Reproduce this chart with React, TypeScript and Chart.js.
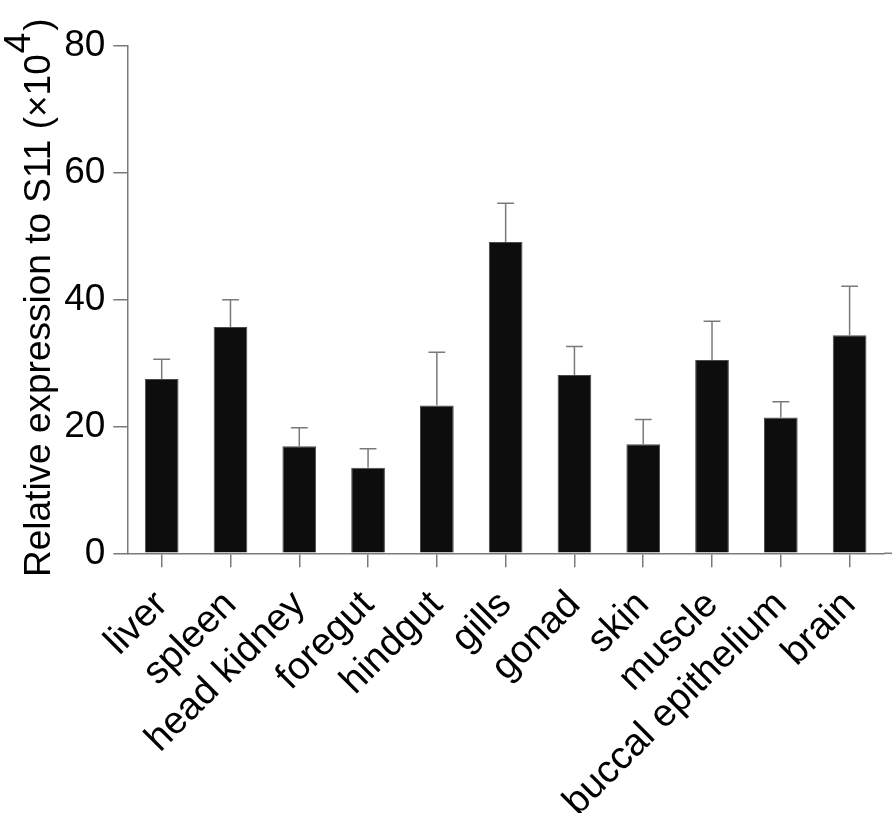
import React, { useEffect, useRef } from "react";
import { Chart, registerables } from "chart.js";

Chart.register(...registerables);

const categories = [
  "liver",
  "spleen",
  "head kidney",
  "foregut",
  "hindgut",
  "gills",
  "gonad",
  "skin",
  "muscle",
  "buccal epithelium",
  "brain",
];
const means = [27.5, 35.7, 16.9, 13.5, 23.3, 49.1, 28.1, 17.2, 30.5, 21.4, 34.4];
const errors = [3.1, 4.3, 2.9, 3.0, 8.4, 6.1, 4.5, 3.9, 6.1, 2.5, 7.7];
const yMin = 0;
const yMax = 80;
const yStep = 20;
const yTitleMain = "Relative expression to S11 (×10";
const yTitleSup = "4";
const yTitleEnd = ")";

const FONT = "'Liberation Sans', Arial, Helvetica, sans-serif";
const GREY = "#7a7a7a";

const errorBarPlugin = {
  id: "errorBars",
  afterDatasetsDraw(chart: any) {
    const ctx = chart.ctx;
    const meta = chart.getDatasetMeta(0);
    const ys = chart.scales.y;
    ctx.save();
    ctx.strokeStyle = GREY;
    ctx.lineWidth = 1.5;
    meta.data.forEach((bar: any, i: number) => {
      const top = ys.getPixelForValue(means[i] + errors[i]);
      const x = bar.x;
      const half = bar.width * 0.25;
      ctx.beginPath();
      ctx.moveTo(x, bar.y);
      ctx.lineTo(x, top);
      ctx.moveTo(x - half, top);
      ctx.lineTo(x + half, top);
      ctx.stroke();
    });
    ctx.restore();
  },
};

const axisExtendPlugin = {
  id: "axisExtend",
  afterDraw(chart: any) {
    const ctx = chart.ctx;
    const { right, bottom } = chart.chartArea;
    ctx.save();
    ctx.strokeStyle = GREY;
    ctx.lineWidth = 1.5;
    ctx.beginPath();
    ctx.moveTo(right, bottom);
    ctx.lineTo(right + 8, bottom);
    ctx.stroke();
    ctx.restore();
  },
};

const yTitlePlugin = {
  id: "yTitle",
  afterDraw(chart: any) {
    const ctx = chart.ctx;
    ctx.save();
    ctx.translate(50, 577);
    ctx.rotate(-Math.PI / 2);
    ctx.fillStyle = "#000";
    ctx.font = `37px ${FONT}`;
    ctx.textAlign = "left";
    ctx.textBaseline = "alphabetic";
    ctx.fillText(yTitleMain, 0, 0);
    const w1 = ctx.measureText(yTitleMain).width;
    ctx.fillText(yTitleSup, w1 + 1, -20);
    const w2 = ctx.measureText(yTitleSup).width;
    ctx.fillText(yTitleEnd, w1 + w2 + 3, 0);
    ctx.restore();
  },
};

export default function App() {
  const ref = useRef<HTMLCanvasElement>(null);

  useEffect(() => {
    if (!ref.current) return;
    const chart = new Chart(ref.current, {
      type: "bar",
      data: {
        labels: categories,
        datasets: [
          {
            data: means,
            backgroundColor: "#0d0d0d",
            borderColor: "#4a4a4a",
            borderWidth: 1,
            barPercentage: 0.49,
            categoryPercentage: 1,
          },
        ],
      },
      options: {
        responsive: false,
        animation: false,
        devicePixelRatio: 1,
        layout: { padding: { top: 46, right: 10, bottom: 0, left: 0 } },
        plugins: {
          legend: { display: false },
          tooltip: { enabled: false },
          title: { display: false },
        },
        scales: {
          x: {
            type: "category",
            offset: true,
            grid: {
              offset: false,
              display: true,
              drawOnChartArea: false,
              drawTicks: true,
              tickLength: 14,
              color: GREY,
              lineWidth: 1.5,
            },
            border: { display: true, color: GREY, width: 1.5 },
            ticks: {
              autoSkip: false,
              maxRotation: 45,
              minRotation: 45,
              padding: 15,
              color: "#000",
              font: { family: FONT, size: 38.5 },
            },
            afterFit(scale: any) {
              scale.height = 259.7;
              scale.paddingLeft = 0;
              scale.paddingRight = 0;
            },
          },
          y: {
            min: yMin,
            max: yMax,
            ticks: {
              stepSize: yStep,
              padding: 8,
              color: "#000",
              font: { family: FONT, size: 37 },
            },
            grid: {
              display: true,
              drawOnChartArea: false,
              drawTicks: true,
              tickLength: 14,
              color: GREY,
              lineWidth: 1.5,
            },
            border: { display: true, color: GREY, width: 1.5 },
            afterFit(scale: any) {
              scale.width = 127.3;
            },
          },
        },
      },
      plugins: [errorBarPlugin, axisExtendPlugin, yTitlePlugin],
    });
    return () => chart.destroy();
  }, []);

  return (
    <div style={{ position: "absolute", left: 0, top: 0, width: 894, height: 813, background: "#fff" }}>
      <canvas ref={ref} width={894} height={813} style={{ display: "block" }} />
    </div>
  );
}
